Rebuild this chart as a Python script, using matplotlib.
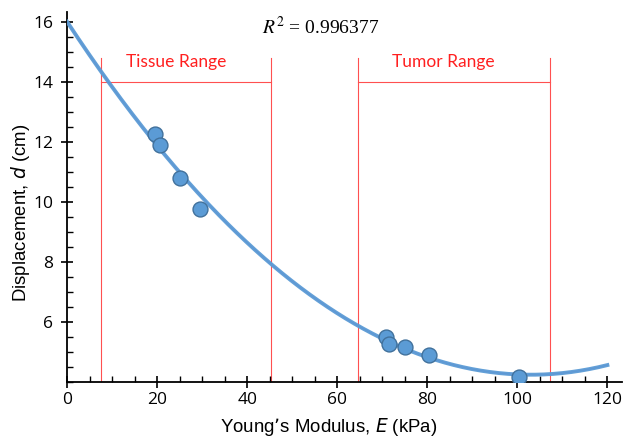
import numpy as np
import matplotlib
matplotlib.use("Agg")
import matplotlib.pyplot as plt

# data points (Young's modulus kPa, displacement cm)
E_kpa = [19.6, 20.7, 25.1, 29.6, 70.8, 71.6, 75.1, 80.4, 100.3]
disp_cm = [12.27, 11.90, 10.80, 9.77, 5.49, 5.26, 5.16, 4.91, 4.18]

# quadratic fit coefficients (a*E^2 + b*E + c)
fit_coeffs = [0.001109, -0.2284, 16.0]
r2_value = "0.996377"

tissue_range = [7.6, 45.3]
tumor_range = [64.7, 107.2]
range_bar_level = 14.0
range_top = 14.8

x_ticks = [0, 20, 40, 60, 80, 100, 120]
y_ticks = [6, 8, 10, 12, 14, 16]

fig = plt.figure(figsize=(6.33, 4.38), dpi=100)
ax = fig.add_axes([0.106, 0.128, 0.877, 0.845])

red = "#FF5050"
for lo, hi, label in [(tissue_range[0], tissue_range[1], "Tissue Range"),
                      (tumor_range[0], tumor_range[1], "Tumor Range")]:
    ax.plot([lo, lo], [4, range_top], color=red, lw=0.8, zorder=1)
    ax.plot([hi, hi], [4, range_top], color=red, lw=0.8, zorder=1)
    ax.plot([lo, hi], [range_bar_level, range_bar_level], color=red, lw=0.8, zorder=1)
    ax.text((lo + hi) / 2 - 2.3, 14.67, label, color="#FF2020", fontsize=12.5,
            family="Lato", ha="center", va="center")

xs = np.linspace(0, 120, 300)
ys = np.polyval(fit_coeffs, xs)
ax.plot(xs, ys, color="#9966CC", lw=1.0, zorder=2)
ax.plot(xs, ys, color="#5B9BD5", lw=2.8, zorder=3, alpha=0.95)

ax.scatter(E_kpa, disp_cm, s=115, color="#5B9BD5", edgecolor="#41719C",
           linewidth=1.0, zorder=4)

ax.text(56.4, 15.83, r"$R^2$ = " + r2_value, fontsize=14, ha="center", va="center",
        family="Liberation Serif", math_fontfamily="stix")

ax.set_xlim(0, 123.3)
ax.set_ylim(4, 16.33)
ax.set_xticks(x_ticks)
ax.set_yticks(y_ticks)
ax.set_xticks(np.arange(0, 121, 5), minor=True)
ax.set_yticks(np.arange(4, 16.01, 0.5), minor=True)
ax.tick_params(axis="both", which="major", direction="inout", length=8, width=1.2,
               labelsize=12.5)
ax.tick_params(axis="both", which="minor", direction="in", length=4, width=1.0)
for lab in ax.get_xticklabels() + ax.get_yticklabels():
    lab.set_family("Open Sans")
ax.tick_params(axis="x", which="major", pad=3)
ax.tick_params(axis="y", which="major", pad=6)

for s in ["top", "right"]:
    ax.spines[s].set_visible(False)
for s in ["left", "bottom"]:
    ax.spines[s].set_linewidth(1.3)

ax.set_xlabel("Young\u2019s Modulus, $\\it{E}$ (kPa)", fontsize=13.4,
              family="Liberation Sans")
ax.set_ylabel("Displacement, $\\it{d}$ (cm)", fontsize=13.4,
              family="Liberation Sans")
ax.xaxis.set_label_coords(0.472, -0.091)
ax.yaxis.set_label_coords(-0.064, 0.457)

fig.savefig("out.png", dpi=100)
